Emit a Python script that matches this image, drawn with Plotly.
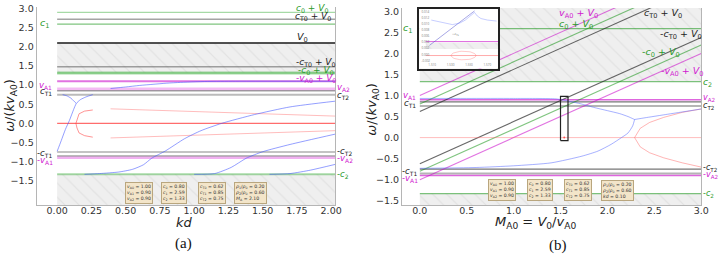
import math
import plotly.graph_objects as go

# ---------------- parameters (text boxes / reference lines) ----------------
vA0, vA1, vA2 = 1.00, 0.90, 0.90
c0, c1, c2 = 0.80, 2.59, 1.33
cT0, cT1, cT2 = 0.62, 0.85, 0.75
rho1_rho0, rho2_rho0 = 0.20, 0.60
MA_a = 2.10
kd_b = 0.10
V0_a = MA_a * vA0

# ---------------- panel (a) curves: omega/(k vA0) vs kd ----------------
a_b1_kd = [0.00, 0.03, 0.06, 0.09, 0.12, 0.14, 0.17, 0.21, 0.26]
a_b1_w = [-0.73, -0.45, -0.16, 0.08, 0.36, 0.52, 0.62, 0.69, 0.75]
a_b2_kd = [0.04, 0.07, 0.10, 0.12, 0.14]
a_b2_w = [0.75, 0.72, 0.66, 0.59, 0.52]
a_b3_kd = [0.39, 0.50, 0.60, 0.70, 0.80, 0.90, 1.00, 1.10, 1.30, 2.03]
a_b3_w = [0.91, 0.95, 0.99, 1.02, 1.05, 1.07, 1.085, 1.095, 1.10, 1.10]
a_b4_kd = [0.20, 0.31, 0.45, 0.55, 0.63, 0.69, 0.79, 0.93, 1.05, 1.20, 1.44, 1.70, 2.03]
a_b4_w = [-1.33, -1.31, -1.27, -1.20, -1.08, -0.91, -0.72, -0.40, -0.19, 0.00, 0.23, 0.43, 0.58]
a_b5_kd = [1.00, 1.15, 1.27, 1.38, 1.50, 1.70, 2.03]
a_b5_w = [-1.33, -1.31, -1.15, -0.91, -0.74, -0.55, -0.28]
a_b6_kd = [1.55, 1.70, 1.85, 2.03]
a_b6_w = [-1.33, -1.31, -1.22, -1.07]

a_r0_kd = [0.00, 2.03]
a_r0_w = [0.00, 0.00]
a_rc_kd = [0.26, 0.20, 0.16, 0.145, 0.137, 0.145, 0.16, 0.20, 0.26]
a_rc_w = [0.35, 0.32, 0.25, 0.12, 0.00, -0.12, -0.25, -0.32, -0.36]
a_ru_kd = [0.39, 0.80, 1.20, 1.60, 2.03]
a_ru_w = [0.38, 0.33, 0.28, 0.23, 0.19]
a_rd_kd = [0.39, 0.80, 1.20, 1.60, 2.03]
a_rd_w = [-0.38, -0.33, -0.28, -0.23, -0.19]

# ---------------- panel (b) curves: omega/(k vA0) vs MA0 ----------------
b_bt_M = [0.00, 0.50, 1.00, 1.45, 1.58, 1.72, 1.85, 2.00, 2.13, 2.22, 2.27, 2.29]
b_bt_w = [0.93, 0.93, 0.93, 0.92, 0.87, 0.80, 0.72, 0.64, 0.57, 0.50, 0.45, 0.43]
b_bl_M = [0.00, 0.60, 1.00, 1.40, 1.73, 1.90, 2.04, 2.15, 2.22, 2.27, 2.29]
b_bl_w = [-0.73, -0.71, -0.67, -0.60, -0.44, -0.32, -0.16, 0.00, 0.11, 0.28, 0.43]
b_br_M = [2.29, 2.40, 2.60, 2.80, 3.00]
b_br_w = [0.43, 0.47, 0.54, 0.61, 0.68]
b_rp_M = [3.00, 2.80, 2.60, 2.45, 2.35, 2.29, 2.35, 2.45, 2.60, 2.80, 3.00]
b_rp_w = [0.68, 0.60, 0.48, 0.36, 0.22, 0.00, -0.22, -0.36, -0.48, -0.60, -0.70]
b_r0_M = [0.00, 3.00]
b_r0_w = [0.00, 0.00]
b_M_line = [0.00, 3.00]
b_box_M = [1.50, 1.58]
b_box_w = [-0.07, 0.98]
b_dot_M = [1.54]
b_dot_w = [0.00]

# ---------------- inset (zoom of the small box) ----------------
in_diag_x = [1.507, 1.556]
in_diag_y = [0.30, 0.98]
in_h1_x = [1.509, 1.520, 1.532, 1.540, 1.546, 1.556]
in_h1_y = [0.80, 0.76, 0.71, 0.74, 0.80, 0.95]
in_h2_x = [1.556, 1.559, 1.563, 1.570, 1.580]
in_h2_y = [0.95, 0.88, 0.83, 0.80, 0.78]
in_mag_y = 0.375
in_band_y = [0.23, 0.35]
in_red_y = 0.10
in_ell_c = (1.544, 0.10)
in_ell_r = (0.0135, 0.085)

XA = [-0.15, 2.03]
YA = [-2.13, 3.04]
XB = [-0.19, 3.0]
YB = [-1.60, 3.08]

GREEN = "rgba(0,140,0,0.5)"
GREEN_T = "#2a9a2a"
MAG = "rgba(200,0,200,0.55)"
MAG_T = "#d020d0"
GRAY = "rgba(90,90,90,0.55)"
BLUE = "rgba(60,80,255,0.55)"
RED = "rgba(255,60,60,0.55)"

fig = go.Figure()


def line(x, y, ax, color, width=1.0, dash=None):
    xa, ya = ax
    fig.add_trace(go.Scatter(x=x, y=y, mode="lines", xaxis=xa, yaxis=ya,
                             line=dict(color=color, width=width, dash=dash),
                             hoverinfo="skip", showlegend=False))


def band(x0, x1, y0, y1, ax):
    xa, ya = ax
    fig.add_trace(go.Scatter(x=[x0, x1, x1, x0, x0], y=[y0, y0, y1, y1, y0],
                             mode="lines", fill="toself", xaxis=xa, yaxis=ya,
                             fillcolor="#eeeeee",
                             fillpattern=dict(shape="\\", fgcolor="#d6d6d6",
                                              bgcolor="#efefef", size=10, solidity=0.12),
                             line=dict(width=0), hoverinfo="skip", showlegend=False))


AXA = ("x", "y")
AXB = ("x2", "y2")
AXI = ("x3", "y3")

# ---------- panel (a) ----------
band(0, XA[1], c2, V0_a, AXA)
band(0, XA[1], YA[0], -c2, AXA)
xa_full = [0, XA[1]]
line(xa_full, [c0 + V0_a] * 2, AXA, "rgba(0,150,0,0.35)", 1.2)
line(xa_full, [cT0 + V0_a] * 2, AXA, GRAY, 1.5)
line(xa_full, [c1] * 2, AXA, GREEN, 1.2)
line(xa_full, [V0_a] * 2, AXA, "rgba(50,50,50,0.85)", 2.0)
line(xa_full, [-cT0 + V0_a] * 2, AXA, GRAY, 1.5)
line(xa_full, [c2] * 2, AXA, "rgba(0,150,0,0.35)", 2.0)
line(xa_full, [-c0 + V0_a] * 2, AXA, "rgba(0,150,0,0.35)", 2.0)
line(xa_full, [-vA0 + V0_a] * 2, AXA, MAG, 2.0)
line(xa_full, [vA1] * 2, AXA, "rgba(220,60,220,0.35)", 3.0)
line(xa_full, [cT1] * 2, AXA, GRAY, 1.5)
line(xa_full, [cT2] * 2, AXA, "rgba(120,120,120,0.5)", 2.0)
line(xa_full, [-cT2] * 2, AXA, "rgba(120,120,120,0.6)", 1.5)
line(xa_full, [-cT1] * 2, AXA, GRAY, 1.5)
line(xa_full, [-vA1] * 2, AXA, "rgba(220,60,220,0.4)", 2.5)
line(xa_full, [-c2] * 2, AXA, "rgba(0,150,0,0.35)", 2.0)

line(a_r0_kd, a_r0_w, AXA, "rgba(255,60,60,0.75)", 1.2)
line(a_rc_kd, a_rc_w, AXA, RED, 1.0)
line(a_ru_kd, a_ru_w, AXA, "rgba(255,90,90,0.4)", 1.0)
line(a_rd_kd, a_rd_w, AXA, "rgba(255,90,90,0.4)", 1.0)
for xs, ys in [(a_b1_kd, a_b1_w), (a_b2_kd, a_b2_w), (a_b3_kd, a_b3_w),
               (a_b4_kd, a_b4_w), (a_b5_kd, a_b5_w), (a_b6_kd, a_b6_w)]:
    fig.add_trace(go.Scatter(x=xs, y=ys, mode="lines", xaxis="x", yaxis="y",
                             line=dict(color=BLUE, width=1.0, shape="spline", smoothing=0.6),
                             hoverinfo="skip", showlegend=False))

# ---------- panel (b) ----------
band(0, XB[1], c2, YB[1], AXB)
band(0, XB[1], YB[0], -c2, AXB)
xb_full = [0, XB[1]]
line(xb_full, [c1] * 2, AXB, GREEN, 1.2)
line(xb_full, [c2] * 2, AXB, GREEN, 1.2)
line(xb_full, [-c2] * 2, AXB, GREEN, 1.2)
line(xb_full, [vA1] * 2, AXB, "rgba(200,0,200,0.6)", 1.5)
line(xb_full, [cT1] * 2, AXB, "rgba(60,60,60,0.7)", 1.3)
line(xb_full, [cT2] * 2, AXB, "rgba(120,120,120,0.55)", 2.0)
line(xb_full, [-cT2] * 2, AXB, "rgba(60,60,60,0.7)", 1.3)
line(xb_full, [-cT1] * 2, AXB, "rgba(120,120,120,0.55)", 2.0)
line(xb_full, [-vA1] * 2, AXB, "rgba(200,0,200,0.6)", 1.5)

for off, col in [(vA0, MAG), (c0, GREEN), (cT0, "rgba(40,40,40,0.7)"),
                 (-cT0, "rgba(40,40,40,0.7)"), (-c0, GREEN), (-vA0, MAG)]:
    line(b_M_line, [m * vA0 + off for m in b_M_line], AXB, col, 1.1)

line(b_r0_M, b_r0_w, AXB, "rgba(255,90,90,0.4)", 1.0)
line(b_rp_M, b_rp_w, AXB, "rgba(255,90,90,0.45)", 1.0)
for xs, ys in [(b_bt_M, b_bt_w), (b_bl_M, b_bl_w), (b_br_M, b_br_w)]:
    fig.add_trace(go.Scatter(x=xs, y=ys, mode="lines", xaxis="x2", yaxis="y2",
                             line=dict(color="rgba(80,100,255,0.5)", width=1.0,
                                       shape="spline", smoothing=0.6),
                             hoverinfo="skip", showlegend=False))
fig.add_trace(go.Scatter(x=b_dot_M, y=b_dot_w, mode="markers", xaxis="x2", yaxis="y2",
                         marker=dict(color="rgba(255,60,60,0.8)", size=2),
                         hoverinfo="skip", showlegend=False))
line([b_box_M[0], b_box_M[1], b_box_M[1], b_box_M[0], b_box_M[0]],
     [b_box_w[0], b_box_w[0], b_box_w[1], b_box_w[1], b_box_w[0]], AXB, "#222222", 1.2)

# ---------- inset ----------
XI = [1.496, 1.582]
YI = [-0.16, 1.02]
fig.add_trace(go.Scatter(x=[XI[0], XI[1], XI[1], XI[0], XI[0]],
                         y=[YI[0], YI[0], YI[1], YI[1], YI[0]], mode="lines",
                         fill="toself", fillcolor="white", line=dict(width=0),
                         xaxis="x3", yaxis="y3", hoverinfo="skip", showlegend=False))
band(1.503, XI[1], in_band_y[0], in_band_y[1], AXI)
line([1.503, XI[1]], [in_mag_y] * 2, AXI, "rgba(200,0,200,0.6)", 1.0)
line([1.503, XI[1]], [in_red_y] * 2, AXI, "rgba(255,90,90,0.5)", 1.0)
line(in_diag_x, in_diag_y, AXI, "rgba(70,70,200,0.6)", 0.8)
line(in_h1_x, in_h1_y, AXI, "rgba(80,100,255,0.4)", 0.8)
line(in_h2_x, in_h2_y, AXI, "rgba(80,100,255,0.4)", 0.8)
ell_t = [i * 2 * math.pi / 40 for i in range(41)]
line([in_ell_c[0] + in_ell_r[0] * math.cos(t) for t in ell_t],
     [in_ell_c[1] + in_ell_r[1] * math.sin(t) for t in ell_t], AXI, "rgba(255,90,90,0.4)", 0.8)

# ---------------- annotations ----------------
ann = []


def lab(text, x, y, ax, color="#222222", size=9, xanchor="center"):
    ann.append(dict(text=text, x=x, y=y, xref=ax[0], yref=ax[1], showarrow=False,
                    xanchor=xanchor, yanchor="middle",
                    font=dict(family="DejaVu Sans", size=size, color=color)))


def I(s):
    return "<i>" + s + "</i>"


cV = I("c") + "<sub>0</sub> + " + I("V") + "<sub>0</sub>"
cTV = I("c") + "<sub>T0</sub> + " + I("V") + "<sub>0</sub>"
vV = I("v") + "<sub>A0</sub> + " + I("V") + "<sub>0</sub>"

# panel (a)
lab(cV, 1.86, 3.0, AXA, GREEN_T)
lab(cTV, 1.87, 2.79, AXA)
lab(I("V") + "<sub>0</sub>", 1.79, 2.23, AXA, size=9.5)
lab("-" + cTV, 1.89, 1.58, AXA)
lab("-" + cV, 1.89, 1.39, AXA, GREEN_T)
lab(I("c") + "<sub>2</sub>", 2.04, 1.31, AXA, GREEN_T, 9.5, xanchor="left")
lab("-" + vV, 1.89, 1.17, AXA, MAG_T)
lab(I("v") + "<sub>A2</sub>", 2.03, 0.93, AXA, MAG_T, 8.5, xanchor="left")
lab(I("c") + "<sub>T2</sub>", 2.03, 0.74, AXA, "#222222", 8.5, xanchor="left")
lab("-" + I("c") + "<sub>T2</sub>", 2.03, -0.74, AXA, "#222222", 8.5, xanchor="left")
lab("-" + I("v") + "<sub>A2</sub>", 2.03, -0.92, AXA, MAG_T, 8.5, xanchor="left")
lab("-" + I("c") + "<sub>2</sub>", 2.03, -1.33, AXA, GREEN_T, 8.5, xanchor="left")
lab(I("c") + "<sub>1</sub>", -0.09, 2.62, AXA, GREEN_T, 9.5)
lab(I("v") + "<sub>A1</sub>", -0.085, 1.0, AXA, MAG_T, 8.5)
lab(I("c") + "<sub>T1</sub>", -0.085, 0.82, AXA, "#222222", 8.5)
lab("-" + I("c") + "<sub>T1</sub>", -0.09, -0.79, AXA, "#222222", 8.5)
lab("-" + I("v") + "<sub>A1</sub>", -0.09, -0.96, AXA, MAG_T, 8.5)
lab("-" + I("c") + "<sub>1</sub>", -0.09, -c1, AXA, GREEN_T, 8.5)

# panel (b)
lab(vV, 1.69, 2.94, AXB, MAG_T, 9.5)
lab(cV, 1.66, 2.69, AXB, GREEN_T, 9.5)
lab(cTV, 2.59, 2.94, AXB, size=9.5)
lab("-" + cTV, 2.79, 2.44, AXB, size=9.5)
lab("-" + cV, 2.57, 2.01, AXB, GREEN_T, 9.5)
lab("-" + vV, 2.80, 1.57, AXB, MAG_T, 9.5)
lab(I("c") + "<sub>1</sub>", -0.13, 2.60, AXB, GREEN_T, 9.5)
lab(I("v") + "<sub>A1</sub>", -0.11, 0.99, AXB, MAG_T, 8.5)
lab(I("c") + "<sub>T1</sub>", -0.11, 0.82, AXB, "#222222", 8.5)
lab("-" + I("c") + "<sub>T1</sub>", -0.11, -0.80, AXB, "#222222", 8.5)
lab("-" + I("v") + "<sub>A1</sub>", -0.11, -0.98, AXB, MAG_T, 8.5)
lab(I("c") + "<sub>2</sub>", 3.0, 1.31, AXB, GREEN_T, 9, xanchor="left")
lab(I("v") + "<sub>A2</sub>", 3.0, 0.93, AXB, MAG_T, 8, xanchor="left")
lab(I("c") + "<sub>T2</sub>", 3.0, 0.74, AXB, "#222222", 8, xanchor="left")
lab("-" + I("c") + "<sub>T2</sub>", 3.0, -0.73, AXB, "#222222", 8, xanchor="left")
lab("-" + I("v") + "<sub>A2</sub>", 3.0, -0.89, AXB, MAG_T, 8, xanchor="left")
lab("-" + I("c") + "<sub>2</sub>", 3.0, -1.33, AXB, GREEN_T, 8, xanchor="left")

# inset label
lab("~" + I("c") + "<sub>T1</sub>", 1.535, 0.52, AXI, "#555555", 3)

# parameter boxes
box_txt_common = [
    "<br>".join([I("v") + "<sub>A0</sub> = %.2f" % vA0, I("v") + "<sub>A1</sub> = %.2f" % vA1,
                 I("v") + "<sub>A2</sub> = %.2f" % vA2]),
    "<br>".join([I("c") + "<sub>0</sub> = %.2f" % c0, I("c") + "<sub>1</sub> = %.2f" % c1,
                 I("c") + "<sub>2</sub> = %.2f" % c2]),
    "<br>".join([I("c") + "<sub>T0</sub> = %.2f" % cT0, I("c") + "<sub>T1</sub> = %.2f" % cT1,
                 I("c") + "<sub>T2</sub> = %.2f" % cT2]),
]
rho_txt = [I("ρ") + "<sub>1</sub>/" + I("ρ") + "<sub>0</sub> = %.2f" % rho1_rho0,
           I("ρ") + "<sub>2</sub>/" + I("ρ") + "<sub>0</sub> = %.2f" % rho2_rho0]
box_a = box_txt_common + ["<br>".join(rho_txt + [I("M") + "<sub>A</sub> = %.2f" % MA_a])]
box_b = box_txt_common + ["<br>".join(rho_txt + [I("kd") + " = %.2f" % kd_b])]
for txt, x in zip(box_a, [0.60, 0.85, 1.13, 1.41]):
    ann.append(dict(text=txt, x=x, y=-1.82, xref="x", yref="y", showarrow=False,
                    xanchor="center", yanchor="middle",
                    align="left", bgcolor="#f3e5c9", bordercolor="#b9a67e", borderwidth=1,
                    borderpad=1, font=dict(family="DejaVu Sans", size=4.6, color="#333")))
for txt, x in zip(box_b, [0.88, 1.28, 1.69, 2.11]):
    ann.append(dict(text=txt, x=x, y=-1.25, xref="x2", yref="y2", showarrow=False,
                    xanchor="center", yanchor="middle",
                    align="left", bgcolor="#f3e5c9", bordercolor="#b9a67e", borderwidth=1,
                    borderpad=1, font=dict(family="DejaVu Sans", size=4.6, color="#333")))


def paper_text(text, px, py, size, family="DejaVu Sans", angle=0, color="#222"):
    ann.append(dict(text=text, x=px / 725, y=1 - py / 254, xref="paper", yref="paper",
                    showarrow=False, xanchor="center", yanchor="middle", textangle=angle,
                    font=dict(family=family, size=size, color=color)))


ytitle = I("ω") + "/(" + I("kv") + "<sub>A0</sub>)"
paper_text(ytitle, 11, 103, 13, angle=-90)
paper_text(ytitle, 377, 107, 13, angle=-90)
paper_text(I("kd"), 187, 223, 13)
paper_text(I("M") + "<sub>A0</sub> = " + I("V") + "<sub>0</sub>/" + I("v") + "<sub>A0</sub>",
           541, 223, 13)
paper_text("(a)", 186, 244, 15, family="Liberation Serif", color="#111")
paper_text("(b)", 564, 246, 15, family="Liberation Serif", color="#111")

TICKF = dict(family="DejaVu Sans", size=9.5, color="#333")
SPINE = "#b5b5b5"


def fmt(v, nd):
    s = ("%." + str(nd) + "f") % v
    return s.replace("-", "\u2212")


ya_ticks = [-1.5, -1.0, -0.5, 0.0, 0.5, 1.0, 1.5, 2.0, 2.5, 3.0]
xa_ticks = [0.0, 0.25, 0.5, 0.75, 1.0, 1.25, 1.5, 1.75, 2.0]
xb_ticks = [0.0, 0.5, 1.0, 1.5, 2.0, 2.5, 3.0]

common_ax = dict(showgrid=False, zeroline=False, ticks="", showline=True, linecolor=SPINE,
                 linewidth=1, tickfont=TICKF)

fig.update_layout(
    width=725, height=254, margin=dict(l=0, r=0, t=0, b=0),
    paper_bgcolor="white", plot_bgcolor="rgba(0,0,0,0)", showlegend=False,
    xaxis=dict(domain=[37 / 725, 339 / 725], range=XA, anchor="y", tickvals=xa_ticks,
               ticktext=[fmt(v, 2) for v in xa_ticks], ticklabelstandoff=-3, **common_ax),
    yaxis=dict(domain=[1 - 205 / 254, 1 - 3 / 254], range=YA, anchor="x", tickvals=ya_ticks,
               ticktext=[fmt(v, 1) for v in ya_ticks], mirror=True, **common_ax),
    xaxis2=dict(domain=[406.5 / 725, 709 / 725], range=XB, anchor="y2", tickvals=xb_ticks,
                ticktext=[fmt(v, 1) for v in xb_ticks], ticklabelstandoff=-3, **common_ax),
    yaxis2=dict(domain=[1 - 205 / 254, 1 - 4 / 254], range=YB, anchor="x2", tickvals=ya_ticks,
                ticktext=[fmt(v, 1) for v in ya_ticks], mirror=True, **common_ax),
    xaxis3=dict(domain=[424 / 725, 504 / 725], range=XI, anchor="y3", showgrid=False,
                zeroline=False, ticks="", showline=True, mirror=True, linecolor="#222",
                linewidth=1.5, tickvals=[1.51, 1.53, 1.55, 1.57],
                ticktext=["1.510", "1.530", "1.550", "1.570"], ticklabelposition="inside",
                tickfont=dict(size=3, color="#777")),
    yaxis3=dict(domain=[1 - 66 / 254, 1 - 5 / 254], range=YI, anchor="x3", showgrid=False,
                zeroline=False, ticks="", showline=True, mirror=True, linecolor="#222",
                linewidth=1.5, tickvals=[0.0, 0.12, 0.24, 0.36, 0.48, 0.6, 0.72, 0.84, 0.96],
                ticktext=["-0.002", "0.000", "0.002", "0.004", "0.006", "0.008", "0.010", "0.012", "0.014"],
                ticklabelposition="inside", tickfont=dict(size=3, color="#777")),
    annotations=ann,
)

fig.write_html("out.html", config={"displayModeBar": False},
               post_script="document.body.style.margin='0';document.body.style.overflow='hidden';")
